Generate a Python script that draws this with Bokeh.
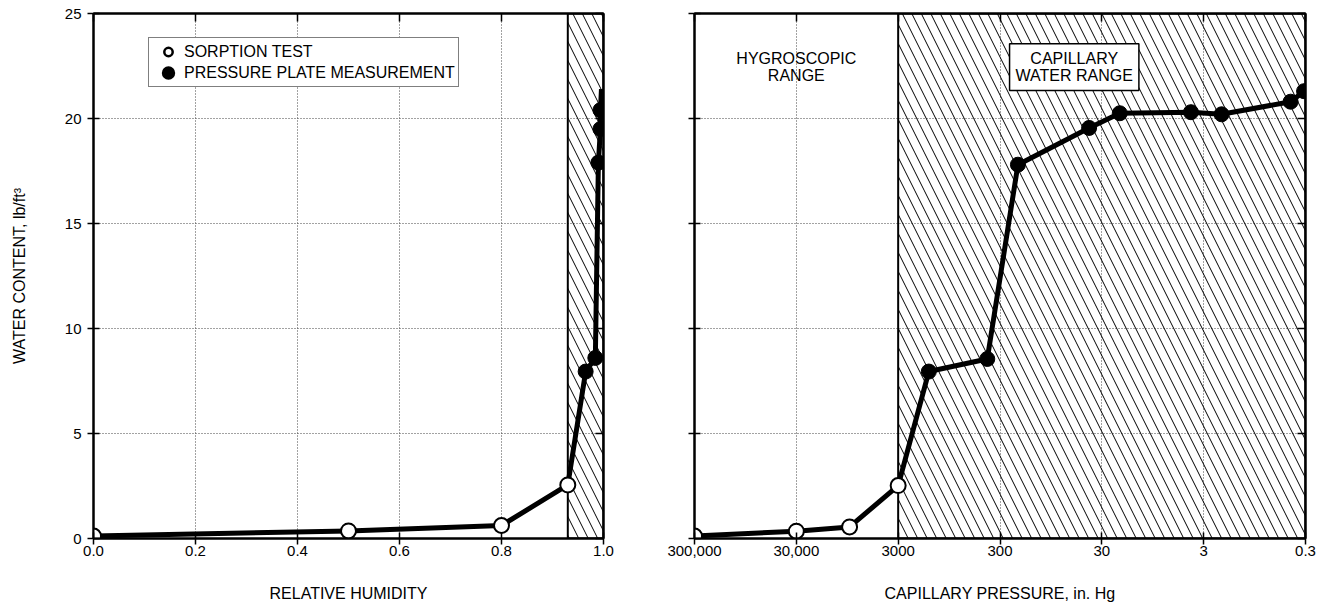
from bokeh.plotting import figure
from bokeh.layouts import row
from bokeh.models import (Range1d, LinearAxis, LogAxis, FixedTicker, Legend, LegendItem,
                          Label, PrintfTickFormatter)
from bokeh.embed import file_html
from bokeh.resources import INLINE

FONT = "Liberation Sans"

# ---------------- data ----------------
# left panel: relative humidity vs water content (lb/ft^3)
rh_sorption = [0.0, 0.5, 0.8, 0.93]
wc_sorption_rh = [0.12, 0.36, 0.62, 2.55]
rh_plate = [0.965, 0.984, 0.990, 0.994, 0.994]
wc_plate_rh = [7.95, 8.6, 17.9, 19.5, 20.4]
rh_curve_end = [0.996]
wc_curve_end = [21.4]

# right panel: capillary pressure (in. Hg) vs water content
cp_sorption = [300000, 30000, 9000, 3000]
wc_sorption_cp = [0.12, 0.35, 0.55, 2.52]
cp_plate = [1500, 400, 200, 40, 20, 4, 2, 0.42, 0.31]
wc_plate_cp = [7.95, 8.55, 17.8, 19.55, 20.25, 20.3, 20.2, 20.8, 21.3]

# ranges / ticks
rh_ticks = [0.0, 0.2, 0.4, 0.6, 0.8, 1.0]
wc_ticks = [0, 5, 10, 15, 20, 25]
cp_ticks = [300000, 30000, 3000, 300, 30, 3, 0.3]
cp_tick_labels = ["300,000", "30,000", "3000", "300", "30", "3", "0.3"]

rh_capillary_start = 0.93
rh_max = 1.0
cp_capillary_start = 3000
cp_min = 0.3
wc_max = 25

series_labels = ["SORPTION TEST", "PRESSURE PLATE MEASUREMENT"]


def style_axis(ax, tin, tout, show_labels=True):
    ax.axis_line_color = "black"
    ax.axis_line_width = 2
    ax.major_tick_line_color = "black"
    ax.major_tick_line_width = 1.5
    ax.major_tick_in = tin
    ax.major_tick_out = tout
    ax.minor_tick_line_color = None
    ax.major_label_text_font = FONT
    ax.major_label_text_color = "black"
    ax.major_label_text_font_size = "15px"
    ax.axis_label_text_font = FONT
    ax.axis_label_text_font_size = "16px"
    ax.axis_label_text_font_style = "normal"
    ax.axis_label_text_color = "black"
    if not show_labels:
        ax.major_label_text_color = None
        ax.major_label_text_font_size = "0px"
        ax.major_label_standoff = 0


def style_fig(p):
    p.outline_line_color = "black"
    p.outline_line_width = 2
    p.background_fill_color = "white"
    p.border_fill_color = "white"
    for g in (p.xgrid, p.ygrid):
        g.grid_line_color = "#444444"
        g.grid_line_dash = "1 2"
        g.grid_line_width = 1


HATCH = dict(fill_color=None, hatch_pattern="\\", hatch_color="black", hatch_scale=19,
             hatch_weight=1, line_color="black", line_width=2)
MSIZE = 15

# ---------------- left panel ----------------
p1 = figure(width=643, height=604, x_range=Range1d(0, rh_max), y_range=Range1d(0, wc_max),
            output_backend="svg", toolbar_location=None,
            min_border_left=93, min_border_right=40, min_border_top=13, min_border_bottom=66)
style_fig(p1)
xb = p1.below[0]
xb.ticker = FixedTicker(ticks=rh_ticks)
xb.formatter = PrintfTickFormatter(format="%.1f")
xb.axis_label = "RELATIVE HUMIDITY"
style_axis(xb, 6, 6)
xb.major_label_standoff = 1
xb.axis_label_standoff = 26
yl = p1.left[0]
yl.ticker = FixedTicker(ticks=wc_ticks)
yl.axis_label = "WATER CONTENT, lb/ft³"
style_axis(yl, 6, 6)
yl.major_label_standoff = 6
yl.axis_label_standoff = 34
p1.xgrid.ticker = FixedTicker(ticks=rh_ticks)
p1.ygrid.ticker = FixedTicker(ticks=wc_ticks)

top1 = LinearAxis(ticker=FixedTicker(ticks=rh_ticks))
style_axis(top1, 8, 0, show_labels=False)
p1.add_layout(top1, "above")
right1 = LinearAxis(ticker=FixedTicker(ticks=wc_ticks))
style_axis(right1, 8, 0, show_labels=False)
p1.add_layout(right1, "right")

p1.quad(left=rh_capillary_start, right=rh_max, bottom=0, top=wc_max, **HATCH)
p1.line(rh_sorption + rh_plate + rh_curve_end, wc_sorption_rh + wc_plate_rh + wc_curve_end,
        line_color="black", line_width=5, line_join="round")
p1.scatter(rh_sorption, wc_sorption_rh, size=MSIZE, fill_color="white",
           line_color="black", line_width=2)
p1.scatter(rh_plate, wc_plate_rh, size=MSIZE, fill_color="black", line_color="black")

# hidden legend swatch renderers (same data, styled for the small legend swatch)
lg_open = p1.scatter(rh_sorption, wc_sorption_rh, fill_color="white", line_color="black",
                     line_width=2.5, visible=False)
lg_fill = p1.scatter(rh_plate, wc_plate_rh, fill_color="black", line_color="black",
                     line_width=5, visible=False)

legend = Legend(items=[LegendItem(label=series_labels[0], renderers=[lg_open]),
                       LegendItem(label=series_labels[1], renderers=[lg_fill])],
                location=(55, 451), orientation="vertical",
                label_text_font=FONT, label_text_font_size="16px", label_text_color="black",
                glyph_height=21, glyph_width=32, label_height=21, label_standoff=0,
                spacing=0, padding=3, margin=0,
                border_line_color="black", border_line_width=1.5,
                background_fill_color="white", background_fill_alpha=1)
p1.add_layout(legend)

# ---------------- right panel ----------------
p2 = figure(width=686, height=604, x_axis_type="log", x_range=Range1d(cp_ticks[0], cp_min),
            y_range=Range1d(0, wc_max), output_backend="svg", toolbar_location=None,
            min_border_left=51, min_border_right=24, min_border_top=13, min_border_bottom=66)
style_fig(p2)
xb2 = p2.below[0]
xb2.ticker = FixedTicker(ticks=cp_ticks)
xb2.major_label_overrides = dict(zip(cp_ticks, cp_tick_labels))
xb2.axis_label = "CAPILLARY PRESSURE, in. Hg"
style_axis(xb2, 6, 6)
xb2.major_label_standoff = 1
xb2.axis_label_standoff = 26
yl2 = p2.left[0]
yl2.ticker = FixedTicker(ticks=wc_ticks)
style_axis(yl2, 6, 6, show_labels=False)
p2.xgrid.ticker = FixedTicker(ticks=cp_ticks)
p2.ygrid.ticker = FixedTicker(ticks=wc_ticks)

top2 = LogAxis(ticker=FixedTicker(ticks=cp_ticks))
style_axis(top2, 8, 0, show_labels=False)
p2.add_layout(top2, "above")
right2 = LinearAxis(ticker=FixedTicker(ticks=wc_ticks))
style_axis(right2, 8, 0, show_labels=False)
p2.add_layout(right2, "right")

p2.quad(left=cp_capillary_start, right=cp_min, bottom=0, top=wc_max, **HATCH)
p2.line(cp_sorption + cp_plate, wc_sorption_cp + wc_plate_cp,
        line_color="black", line_width=5, line_join="round")
p2.scatter(cp_sorption, wc_sorption_cp, size=MSIZE, fill_color="white",
           line_color="black", line_width=2)
p2.scatter(cp_plate, wc_plate_cp, size=MSIZE, fill_color="black", line_color="black")

p2.add_layout(Label(x=30000, y=22.45, text="HYGROSCOPIC\nRANGE", text_align="center",
                    text_baseline="middle", text_font=FONT, text_font_size="16px",
                    text_color="black", text_line_height=1.05))
p2.add_layout(Label(x=56, y=22.45, text="CAPILLARY\nWATER RANGE", text_align="center",
                    text_baseline="middle", text_font=FONT, text_font_size="16px",
                    text_color="black", text_line_height=1.05,
                    background_fill_color="white", border_line_color="black",
                    border_line_width=1.5, padding=6))

layout = row(p1, p2)
open("out.html", "w").write(file_html(layout, INLINE))
